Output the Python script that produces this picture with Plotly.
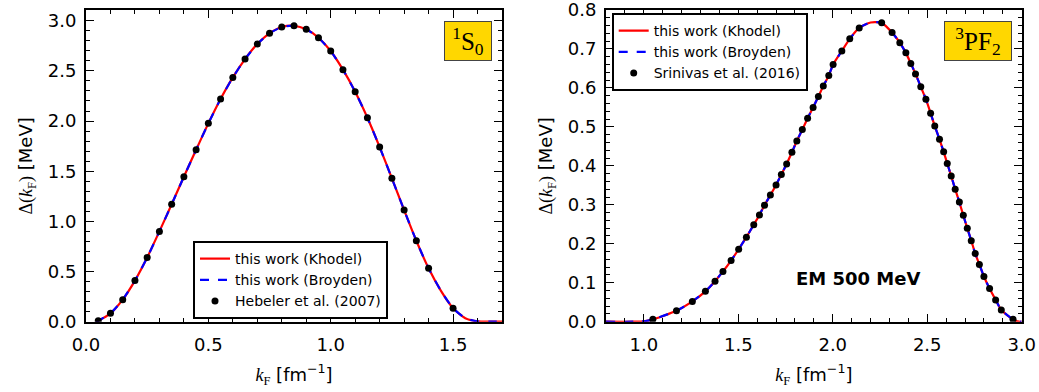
import plotly.graph_objects as go

# ---------------- Left panel: 1S0 ----------------
s0_points_kF = [0.05, 0.10, 0.15, 0.20, 0.25, 0.30, 0.35, 0.40, 0.45, 0.50,
                0.55, 0.60, 0.65, 0.70, 0.75, 0.80, 0.85, 0.90, 0.95, 1.00,
                1.05, 1.10, 1.15, 1.20, 1.25, 1.30, 1.35, 1.40, 1.50]
s0_points_gap = [0.01, 0.083, 0.22, 0.41, 0.64, 0.90, 1.17, 1.445, 1.714, 1.977,
                 2.22, 2.435, 2.618, 2.767, 2.874, 2.937, 2.95, 2.914, 2.83, 2.698,
                 2.512, 2.292, 2.033, 1.741, 1.429, 1.113, 0.807, 0.532, 0.135]

s0_curve_kF = [0.04, 0.05, 0.10, 0.15, 0.20, 0.25, 0.30, 0.35, 0.40, 0.45, 0.50,
               0.55, 0.60, 0.65, 0.70, 0.75, 0.80, 0.85, 0.90, 0.95, 1.00,
               1.05, 1.10, 1.15, 1.20, 1.25, 1.30, 1.35, 1.40, 1.45, 1.50,
               1.55, 1.60, 1.65, 1.70]
s0_khodel = [0.0, 0.01, 0.083, 0.22, 0.41, 0.64, 0.90, 1.17, 1.445, 1.714, 1.977,
             2.22, 2.435, 2.618, 2.767, 2.874, 2.937, 2.95, 2.914, 2.83, 2.698,
             2.512, 2.292, 2.033, 1.741, 1.429, 1.113, 0.807, 0.532, 0.31, 0.135,
             0.035, 0.003, 0.0, 0.0]
s0_broyden = [0.0, 0.01, 0.083, 0.22, 0.41, 0.64, 0.90, 1.17, 1.445, 1.714, 1.977,
              2.22, 2.435, 2.618, 2.767, 2.874, 2.937, 2.95, 2.914, 2.83, 2.698,
              2.512, 2.292, 2.033, 1.741, 1.429, 1.113, 0.807, 0.532, 0.31, 0.135,
              0.035, 0.003, 0.0, 0.0]

# ---------------- Right panel: 3PF2 ----------------
pf2_points_kF = [1.048, 1.173, 1.257, 1.326, 1.377, 1.419, 1.462, 1.502, 1.543, 1.582,
                 1.612, 1.639, 1.670, 1.700, 1.728, 1.756, 1.784, 1.810, 1.839, 1.867,
                 1.896, 1.924, 1.950, 1.979, 2.002, 2.048, 2.090, 2.140, 2.259, 2.314,
                 2.355, 2.387, 2.413, 2.438, 2.466, 2.493, 2.518, 2.540, 2.565, 2.587,
                 2.606, 2.627, 2.648, 2.670, 2.691, 2.712, 2.733, 2.754, 2.776, 2.800,
                 2.830, 2.862, 2.892, 2.954]
pf2_points_gap = [0.006, 0.028, 0.052, 0.078, 0.104, 0.129, 0.157, 0.186, 0.217, 0.249,
                  0.274, 0.299, 0.325, 0.351, 0.378, 0.405, 0.435, 0.464, 0.493, 0.522,
                  0.550, 0.578, 0.605, 0.632, 0.660, 0.695, 0.726, 0.754, 0.767, 0.742,
                  0.716, 0.690, 0.663, 0.636, 0.603, 0.571, 0.535, 0.502, 0.468, 0.436,
                  0.406, 0.374, 0.340, 0.307, 0.273, 0.240, 0.208, 0.175, 0.147, 0.116,
                  0.085, 0.056, 0.030, 0.006]

pf2_curve_kF = [0.80, 0.95, 1.0, 1.048, 1.173, 1.257, 1.326, 1.377, 1.419, 1.462, 1.502,
                1.543, 1.582, 1.612, 1.639, 1.670, 1.700, 1.728, 1.756, 1.784, 1.810,
                1.839, 1.867, 1.896, 1.924, 1.950, 1.979, 2.002, 2.048, 2.090, 2.140,
                2.200, 2.259, 2.314, 2.355, 2.387, 2.413, 2.438, 2.466, 2.493, 2.518,
                2.540, 2.565, 2.587, 2.606, 2.627, 2.648, 2.670, 2.691, 2.712, 2.733,
                2.754, 2.776, 2.800, 2.830, 2.862, 2.892, 2.954, 2.985, 3.0]
pf2_khodel = [0.0, 0.0, 0.001, 0.006, 0.028, 0.052, 0.078, 0.104, 0.129, 0.157, 0.186,
              0.217, 0.249, 0.274, 0.299, 0.325, 0.351, 0.378, 0.405, 0.435, 0.464,
              0.493, 0.522, 0.550, 0.578, 0.605, 0.632, 0.660, 0.695, 0.726, 0.754,
              0.768, 0.767, 0.742, 0.716, 0.690, 0.663, 0.636, 0.603, 0.571, 0.535,
              0.502, 0.468, 0.436, 0.406, 0.374, 0.340, 0.307, 0.273, 0.240, 0.208,
              0.175, 0.147, 0.116, 0.085, 0.056, 0.030, 0.006, 0.0, 0.0]
pf2_broyden = list(pf2_khodel)

RED = "#ff0000"
BLUE = "#0000ff"
FONT = "DejaVu Sans"
SERIF = "Liberation Serif"

fig = go.Figure()


def add_panel(xa, ya, ckf, kh, br, pkf, pg, ptname, legend):
    fig.add_trace(go.Scatter(x=ckf, y=kh, mode="lines", name="this work (Khodel)",
                             line=dict(color=RED, width=2.2, shape="spline", smoothing=0.6),
                             xaxis=xa, yaxis=ya, legend=legend))
    fig.add_trace(go.Scatter(x=ckf, y=br, mode="lines", name="this work (Broyden)",
                             line=dict(color=BLUE, width=2.2, dash="dash", shape="spline", smoothing=0.6),
                             xaxis=xa, yaxis=ya, legend=legend))
    fig.add_trace(go.Scatter(x=pkf, y=pg, mode="markers", name=ptname,
                             marker=dict(color="black", size=7),
                             xaxis=xa, yaxis=ya, legend=legend))


add_panel("x", "y", s0_curve_kF, s0_khodel, s0_broyden, s0_points_kF, s0_points_gap,
          "Hebeler et al. (2007)", "legend")
add_panel("x2", "y2", pf2_curve_kF, pf2_khodel, pf2_broyden, pf2_points_kF, pf2_points_gap,
          "Srinivas et al. (2016)", "legend2")

W, H = 1039, 392
ydom = [(392 - 321.7) / H, (392 - 10) / H]

xtitle = (f"<span style='font-family:{SERIF}'><i>k</i><sub>F</sub></span>"
          " [fm<sup>−1</sup>]")
ytitle = (f"<span style='font-family:{SERIF}'>Δ(<i>k</i><sub>F</sub>)</span>"
          " [MeV]")


def axis_common(dtick, minor_dtick, rng, standoff):
    return dict(range=rng, dtick=dtick, tick0=0, tickformat=".1f", automargin=False,
                ticks="inside", ticklen=8, tickwidth=1.3, tickcolor="black",
                showline=True, linecolor="black", linewidth=2, mirror="allticks",
                showgrid=False, zeroline=False, ticklabeloverflow="allow",
                ticklabelstandoff=standoff,
                tickfont=dict(family=FONT, size=18, color="black"),
                minor=dict(ticks="inside", ticklen=4, tickwidth=1, tickcolor="black",
                           dtick=minor_dtick, tick0=0, showgrid=False))


TFONT = dict(family=FONT, size=18, color="black")

xa1 = axis_common(0.5, 0.1, [0, 1.7], 6)
xa1.update(domain=[86 / W, 502 / W], anchor="y",
           title=dict(text=xtitle, standoff=14, font=TFONT))
ya1 = axis_common(0.5, 0.1, [0, 3.107], 4)
ya1.update(domain=ydom, anchor="x",
           title=dict(text=ytitle, standoff=10, font=TFONT))

xa2 = axis_common(0.5, 0.1, [0.8, 3.0], 6)
xa2.update(domain=[606 / W, 1021.7 / W], anchor="y2",
           title=dict(text=xtitle, standoff=14, font=TFONT))
ya2 = axis_common(0.1, 0.02, [0, 0.80001], 4)
ya2.update(domain=ydom, anchor="x2",
           title=dict(text=ytitle, standoff=10, font=TFONT))

legend_style = dict(bgcolor="white", bordercolor="black", borderwidth=2,
                    font=dict(family=FONT, size=14, color="black"),
                    xanchor="left", yanchor="top", xref="paper", yref="paper",
                    tracegroupgap=0, itemwidth=30)

fig.update_layout(
    width=W, height=H,
    margin=dict(l=0, r=0, t=0, b=0, autoexpand=False),
    paper_bgcolor="white", plot_bgcolor="white",
    xaxis=xa1, yaxis=ya1, xaxis2=xa2, yaxis2=ya2,
    legend=dict(x=193 / W, y=1 - 241 / H, **legend_style),
    legend2=dict(x=611.7 / W, y=1 - 13 / H, **legend_style),
    annotations=[
        dict(text="<sup>1</sup>S<sub>0</sub>", xref="paper", yref="paper",
             x=491.7 / W, y=1 - 20.7 / H, xanchor="right", yanchor="top",
             showarrow=False, bgcolor="#ffd700", bordercolor="#444444", borderwidth=1,
             borderpad=0, width=46, height=38,
             font=dict(family=SERIF, size=25, color="black")),
        dict(text="<sup>3</sup>PF<sub>2</sub>", xref="paper", yref="paper",
             x=1011.7 / W, y=1 - 20.7 / H, xanchor="right", yanchor="top",
             showarrow=False, bgcolor="#ffd700", bordercolor="#444444", borderwidth=1,
             borderpad=0, width=66, height=38,
             font=dict(family=SERIF, size=25, color="black")),
        dict(text="<b>EM 500 MeV</b>", xref="x2", yref="y2", x=2.132, y=0.111,
             showarrow=False, font=dict(family=FONT, size=18, color="black")),
    ],
)

fig.write_html("out.html")
